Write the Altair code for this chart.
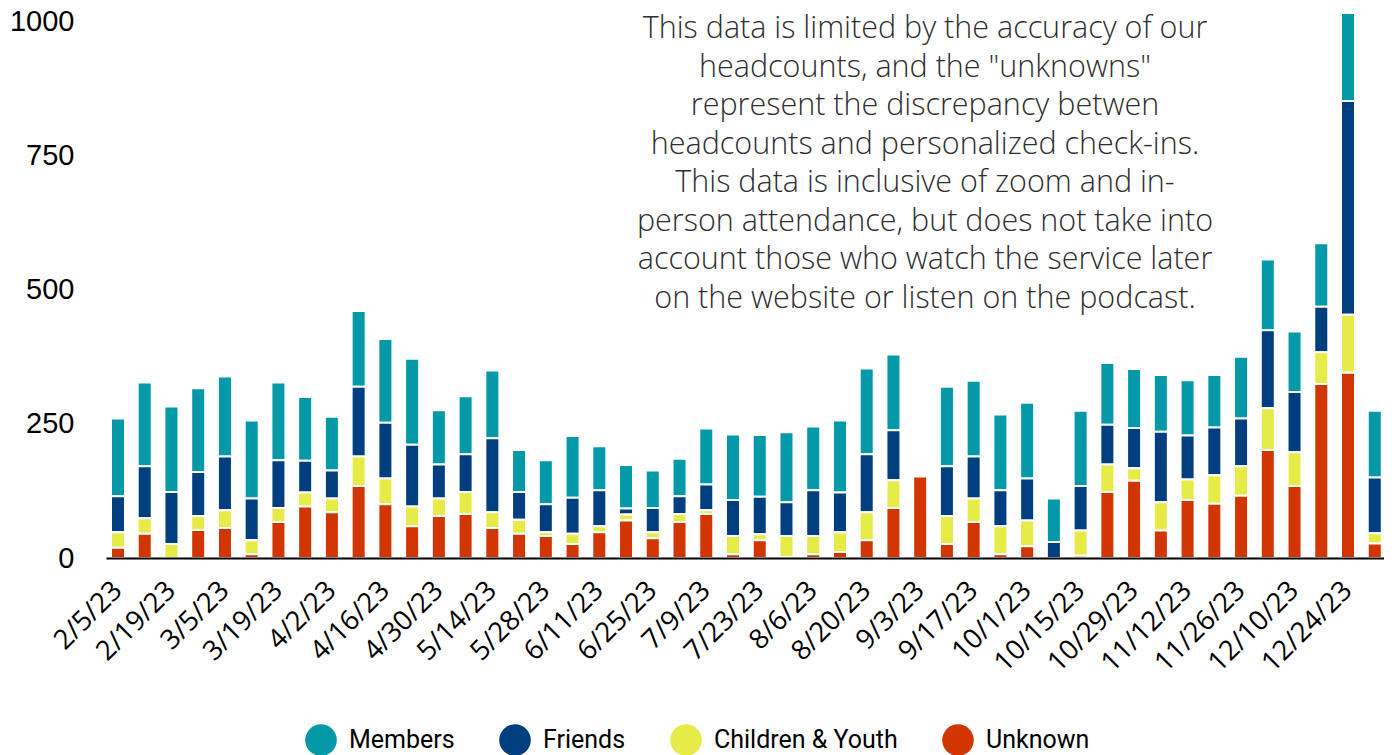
import altair as alt
import pandas as pd

weeks = ["2/5/23", "2/12/23", "2/19/23", "2/26/23", "3/5/23", "3/12/23", "3/19/23", "3/26/23",
         "4/2/23", "4/9/23", "4/16/23", "4/23/23", "4/30/23", "5/7/23", "5/14/23", "5/21/23",
         "5/28/23", "6/4/23", "6/11/23", "6/18/23", "6/25/23", "7/2/23", "7/9/23", "7/16/23",
         "7/23/23", "7/30/23", "8/6/23", "8/13/23", "8/20/23", "8/27/23", "9/3/23", "9/10/23",
         "9/17/23", "9/24/23", "10/1/23", "10/8/23", "10/15/23", "10/22/23", "10/29/23", "11/5/23",
         "11/12/23", "11/19/23", "11/26/23", "12/3/23", "12/10/23", "12/17/23", "12/24/23", "12/31/23"]

unknown = [19, 45, 0, 52, 56, 7, 67, 96, 85, 134, 100, 59, 78, 82, 56, 45,
           41, 26, 48, 70, 37, 67, 82, 7, 33, 2, 7, 11, 33, 93, 152, 26,
           67, 7, 22, 0, 4, 123, 144, 51, 108, 101, 116, 201, 134, 324, 345, 27]
children = [29, 29, 26, 26, 33, 26, 26, 26, 26, 55, 48, 37, 33, 41, 29, 26,
            7, 19, 11, 11, 11, 15, 7, 34, 11, 39, 34, 37, 52, 52, 0, 52,
            44, 52, 48, 0, 47, 51, 23, 53, 38, 53, 55, 78, 63, 59, 108, 19]
friends = [67, 97, 97, 82, 100, 78, 89, 59, 52, 130, 104, 115, 63, 70, 138, 52,
           52, 67, 67, 11, 45, 33, 48, 67, 70, 63, 85, 74, 108, 93, 0, 93,
           78, 67, 78, 30, 83, 74, 75, 131, 82, 89, 89, 145, 112, 85, 398, 104]
members = [145, 156, 159, 156, 149, 145, 145, 119, 100, 141, 156, 160, 101, 108, 126, 78,
           82, 115, 82, 81, 70, 70, 104, 122, 115, 130, 119, 134, 160, 141, 0, 148,
           141, 141, 141, 81, 140, 115, 110, 106, 103, 98, 115, 132, 113, 118, 164, 124]

tick_labels = ["2/5/23", "2/19/23", "3/5/23", "3/19/23", "4/2/23", "4/16/23", "4/30/23",
               "5/14/23", "5/28/23", "6/11/23", "6/25/23", "7/9/23", "7/23/23", "8/6/23",
               "8/20/23", "9/3/23", "9/17/23", "10/1/23", "10/15/23", "10/29/23",
               "11/12/23", "11/26/23", "12/10/23", "12/24/23"]

y_ticks = [0, 250, 500, 750, 1000]

categories = ["Members", "Friends", "Children & Youth", "Unknown"]
colors = ["#0399A8", "#003F7F", "#E6EB47", "#D13600"]
stack_rank = {"Unknown": 0, "Children & Youth": 1, "Friends": 2, "Members": 3}

note_lines = [
    "This data is limited by the accuracy of our",
    "headcounts, and the \"unknowns\"",
    "represent the discrepancy betwen",
    "headcounts and personalized check-ins.",
    "This data is inclusive of zoom and in-",
    "person attendance, but does not take into",
    "account those who watch the service later",
    "on the website or listen on the podcast.",
]

rows = []
series = {"Members": members, "Friends": friends, "Children & Youth": children, "Unknown": unknown}
for cat, vals in series.items():
    for w, v in zip(weeks, vals):
        if v > 0:
            rows.append({"week": w, "category": cat, "count": v, "rank": stack_rank[cat]})
df = pd.DataFrame(rows)

bars = alt.Chart(df).mark_bar(stroke="white", strokeWidth=2).encode(
    x=alt.X("week:N", sort=weeks,
            scale=alt.Scale(domain=weeks, paddingInner=0.476, paddingOuter=0.135, align=0.69),
            axis=alt.Axis(title=None, values=tick_labels, labelAngle=-45, labelAlign="right",
                          labelBaseline="middle", labelPadding=28, ticks=False, tickSize=0,
                          labelFont="Open Sans", labelFontSize=27.5, labelColor="black",
                          domainColor="black", domainWidth=2, grid=False, labelOverlap=False,
                          zindex=1)),
    y=alt.Y("count:Q", stack="zero",
            scale=alt.Scale(domain=[0, 1000], nice=False),
            axis=alt.Axis(title=None, values=y_ticks, format="d", ticks=False, tickSize=0,
                          domain=False, grid=False, labelPadding=32, labelFont="Liberation Sans",
                          labelFontSize=29, labelColor="black")),
    color=alt.Color("category:N",
                    scale=alt.Scale(domain=categories, range=colors),
                    legend=alt.Legend(orient="none", legendX=199, legendY=703,
                                      direction="horizontal", title=None,
                                      symbolType="circle", symbolSize=1000,
                                      symbolStrokeWidth=0, labelFont="Roboto",
                                      labelFontSize=25, labelColor="black", labelLimit=0,
                                      columnPadding=44, labelOffset=12, padding=0)),
    order=alt.Order("rank:Q", sort="ascending"),
)

note = alt.Chart(pd.DataFrame({"k": [0]})).mark_text(
    text=note_lines, align="center", baseline="alphabetic", font="Open Sans",
    fontSize=30.5, fontWeight=300, lineHeight=38.5, color="#2e2e2e"
).encode(x=alt.value(819), y=alt.value(17))

chart = alt.layer(bars, note).properties(
    width=1278, height=537,
    autosize=alt.AutoSizeParams(type="none"),
    padding={"left": 98, "top": 13, "right": 0, "bottom": 197},
).configure_view(stroke=None)

chart.save("out.html", embed_options={"renderer": "svg", "actions": False})
